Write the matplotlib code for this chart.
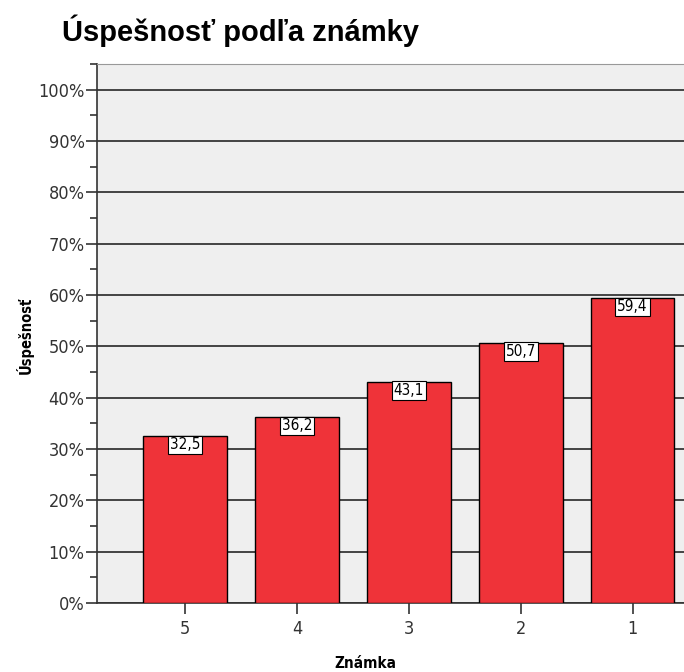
import matplotlib.pyplot as plt
import numpy as np
from matplotlib.ticker import MultipleLocator, FuncFormatter

categories = ["5", "4", "3", "2", "1"]
values = [32.5, 36.2, 43.1, 50.7, 59.4]
value_labels = ["32,5", "36,2", "43,1", "50,7", "59,4"]

plt.rcParams["font.family"] = ["Liberation Sans", "DejaVu Sans"]
cond = dict(family="DejaVu Sans", stretch="condensed")

fig = plt.figure(figsize=(6.84, 6.72), dpi=100)
ax = fig.add_axes([97 / 684, 1 - 603 / 672, 1 - 97 / 684, (603 - 64) / 672])
ax.set_facecolor("#efefef")

x = np.arange(len(categories))
ax.bar(x, values, width=0.75, color="#ef3339", edgecolor="black", linewidth=1.0, zorder=3)

# value labels sit in white boxes just under the bar top
for xi, v, lab in zip(x, values, value_labels):
    ax.text(xi, v - 0.25, lab, ha="center", va="top", fontsize=11, zorder=4, **cond,
            bbox=dict(boxstyle="square,pad=0.12", facecolor="white", edgecolor="black", linewidth=0.8))

ax.set_xlim(-0.786, 4.46)
ax.set_ylim(0, 105)
ax.yaxis.set_major_locator(MultipleLocator(10))
ax.yaxis.set_minor_locator(MultipleLocator(5))
ax.yaxis.set_major_formatter(FuncFormatter(lambda v, p: f"{int(v)}%" if v <= 100 else ""))
ax.set_xticks(x, categories)
ax.grid(axis="y", which="major", color="#444444", linewidth=1.4, zorder=1)

ax.tick_params(axis="y", which="major", length=8, width=1.2, color="#333333", labelsize=13, labelcolor="#333333", pad=1)
ax.tick_params(axis="y", which="minor", length=5, width=1.2, color="#333333")
ax.tick_params(axis="x", length=8, width=1.2, color="#333333", labelsize=13, labelcolor="#333333", pad=4)
for lab in ax.get_yticklabels() + ax.get_xticklabels():
    lab.set_family("DejaVu Sans")
    lab.set_stretch("condensed")

ax.spines["left"].set_color("#333333")
ax.spines["left"].set_linewidth(1.2)
ax.spines["bottom"].set_color("#333333")
ax.spines["bottom"].set_linewidth(1.2)
ax.spines["top"].set_color("#999999")
ax.spines["right"].set_visible(False)

ax.set_ylabel("Úspešnosť", fontsize=10.5, fontweight="bold", **cond)
ax.set_xlabel("Známka", fontsize=11, fontweight="bold", **cond)
ax.yaxis.set_label_coords((25 - 97) / 587, (603 - 335) / 539)
ax.xaxis.set_label_coords((365 - 97) / 587, -(663 - 603) / 539)
ax.xaxis.label.set_va("center")
ax.yaxis.label.set_va("center")

fig.text(62 / 684, 1 - 31 / 672, "Úspešnosť podľa známky", fontsize=21, fontweight="bold",
         ha="left", va="center")

fig.savefig("out.png", dpi=100)
